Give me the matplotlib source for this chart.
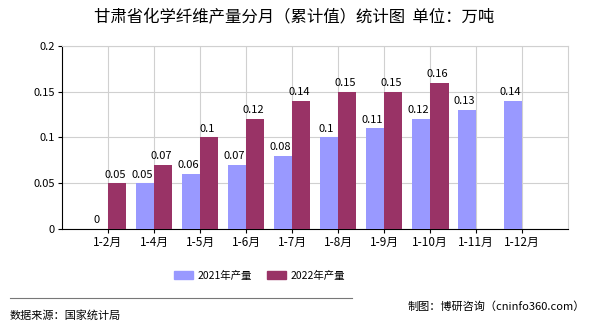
import numpy as np
import matplotlib.pyplot as plt
from matplotlib.lines import Line2D

plt.rcParams['font.family'] = ['Noto Sans CJK SC', 'DejaVu Sans']

months = ["1-2月", "1-4月", "1-5月", "1-6月", "1-7月", "1-8月", "1-9月", "1-10月", "1-11月", "1-12月"]
prod_2021 = [0, 0.05, 0.06, 0.07, 0.08, 0.1, 0.11, 0.12, 0.13, 0.14]
prod_2022 = [0.05, 0.07, 0.1, 0.12, 0.14, 0.15, 0.15, 0.16, None, None]

c21 = "#9999FF"
c22 = "#993366"

fig = plt.figure(figsize=(5.9, 3.3), dpi=100)
ax = fig.add_axes([0.105, 0.306, 0.858, 0.555])

x = np.arange(1, len(months) + 1)
w = 0.4
for i, v in enumerate(prod_2021):
    ax.bar(x[i] - w / 2, v, w, color=c21, zorder=3)
    ax.text(x[i] - w / 2 - 0.05, v + 0.004, f"{v:g}", ha="center", va="bottom", fontsize=8, zorder=4)
for i, v in enumerate(prod_2022):
    if v is None:
        continue
    ax.bar(x[i] + w / 2, v, w, color=c22, zorder=3)
    ax.text(x[i] + w / 2 - 0.05, v + 0.004, f"{v:g}", ha="center", va="bottom", fontsize=8, zorder=4)

ax.set_xlim(0, 11)
ax.set_ylim(0, 0.2)
ax.set_xticks(x)
ax.set_xticklabels(months, fontsize=8.5)
ax.set_yticks([0, 0.05, 0.1, 0.15, 0.2])
ax.set_yticklabels(["0", "0.05", "0.1", "0.15", "0.2"], fontsize=8)
ax.grid(True, color="#d0d0d0", linewidth=0.8, zorder=0)
ax.tick_params(length=3, width=0.8, pad=2)
for s in ["top", "right"]:
    ax.spines[s].set_color("#d0d0d0")
for s in ["left", "bottom"]:
    ax.spines[s].set_color("black")

fig.text(0.498, 0.945, "甘肃省化学纤维产量分月（累计值）统计图  单位：万吨", ha="center", va="center", fontsize=11.8)

handles = [plt.Rectangle((0, 0), 1, 1, color=c21), plt.Rectangle((0, 0), 1, 1, color=c22)]
fig.legend(handles, ["2021年产量", "2022年产量"], loc="center", bbox_to_anchor=(0.44, 0.165), ncol=2,
           frameon=False, fontsize=7.5, handlelength=1.8, handleheight=0.7, columnspacing=1.5, handletextpad=0.4)

fig.add_artist(Line2D([0.017, 0.597], [0.097, 0.097], color="#777777", linewidth=0.8))
fig.text(0.017, 0.045, "数据来源：国家统计局", ha="left", va="center", fontsize=8)
fig.text(0.992, 0.07, "制图：博研咨询（cninfo360.com）", ha="right", va="center", fontsize=8)

fig.savefig("out.png", dpi=100)
